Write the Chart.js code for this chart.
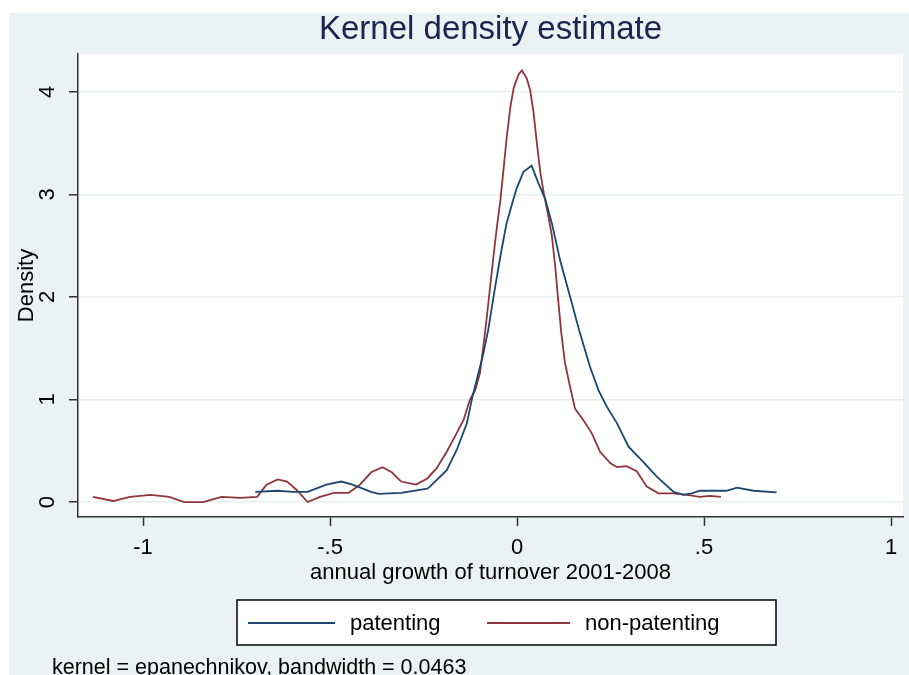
<!DOCTYPE html>
<html>
<head>
<meta charset="utf-8">
<script src="https://cdn.jsdelivr.net/npm/chart.js@4.4.1/dist/chart.umd.min.js"></script>
<style>
  html, body { margin: 0; padding: 0; background: #fff; }
  canvas { display: block; }
</style>
</head>
<body>
<canvas id="kdensChart" width="909" height="675"></canvas>
<script>
// values
const patX = [-0.70, -0.64, -0.60, -0.56, -0.51, -0.47, -0.44, -0.39, -0.37, -0.31, -0.24, -0.233, -0.188, -0.161, -0.134, -0.121, -0.108, -0.09, -0.077, -0.063, -0.045, -0.028, -0.01, -0.001, 0.017, 0.039, 0.057, 0.075, 0.093, 0.115, 0.142, 0.168, 0.195, 0.218, 0.24, 0.267, 0.298, 0.338, 0.373, 0.418, 0.445, 0.467, 0.489, 0.56, 0.588, 0.632, 0.694];
const patY = [0.10, 0.11, 0.10, 0.10, 0.17, 0.20, 0.17, 0.10, 0.08, 0.09, 0.13, 0.15, 0.31, 0.51, 0.77, 1.00, 1.19, 1.45, 1.68, 2.00, 2.39, 2.72, 2.95, 3.06, 3.22, 3.28, 3.11, 2.96, 2.72, 2.36, 2.00, 1.65, 1.32, 1.09, 0.93, 0.77, 0.54, 0.39, 0.25, 0.10, 0.07, 0.085, 0.11, 0.11, 0.14, 0.11, 0.095];

const nonPatX = [-1.134, -1.08, -1.035, -0.98, -0.93, -0.89, -0.84, -0.79, -0.74, -0.695, -0.67, -0.64, -0.615, -0.59, -0.56, -0.527, -0.49, -0.45, -0.42, -0.39, -0.36, -0.335, -0.31, -0.27, -0.24, -0.215, -0.188, -0.166, -0.143, -0.126, -0.112, -0.099, -0.09, -0.081, -0.072, -0.063, -0.054, -0.045, -0.036, -0.027, -0.018, -0.009, 0.004, 0.013, 0.026, 0.035, 0.044, 0.053, 0.062, 0.072, 0.082, 0.093, 0.102, 0.11, 0.118, 0.128, 0.142, 0.155, 0.177, 0.20, 0.222, 0.249, 0.267, 0.293, 0.32, 0.347, 0.378, 0.418, 0.454, 0.489, 0.516, 0.545];
const nonPatY = [0.05, 0.01, 0.05, 0.07, 0.05, 0.00, 0.00, 0.05, 0.04, 0.05, 0.17, 0.22, 0.20, 0.12, 0.00, 0.05, 0.09, 0.09, 0.17, 0.29, 0.34, 0.29, 0.20, 0.17, 0.23, 0.33, 0.49, 0.64, 0.80, 1.00, 1.09, 1.26, 1.52, 1.80, 2.10, 2.40, 2.68, 2.93, 3.25, 3.58, 3.85, 4.04, 4.17, 4.21, 4.13, 4.02, 3.80, 3.50, 3.22, 3.00, 2.82, 2.60, 2.30, 1.97, 1.66, 1.36, 1.12, 0.91, 0.80, 0.67, 0.49, 0.38, 0.34, 0.35, 0.30, 0.15, 0.085, 0.085, 0.07, 0.05, 0.06, 0.05];

const xTicks = [-1, -0.5, 0, 0.5, 1];
const yTicks = [0, 1, 2, 3, 4];
const seriesNames = ["patenting", "non-patenting"];
const seriesColors = ["#1a476f", "#90353b"];
const footnote = "kernel = epanechnikov, bandwidth = 0.0463";

const FONT = "'Liberation Sans', Arial, sans-serif";

function toPoints(xs, ys) {
  return xs.map((x, i) => ({ x: x, y: ys[i] }));
}

function stataLabel(v) {
  if (v === 0) return "0";
  return String(v).replace("0.", ".");
}

// backdrop, legend box and note, drawn round the chart
const frame = {
  id: "frame",
  beforeDraw(chart) {
    const ctx = chart.ctx;
    const a = chart.chartArea;
    ctx.save();
    ctx.fillStyle = "#ffffff";
    ctx.fillRect(0, 0, chart.width, chart.height);
    ctx.fillStyle = "#eaf2f3";
    ctx.fillRect(9, 13, chart.width - 9, chart.height - 13);
    ctx.fillStyle = "#ffffff";
    ctx.fillRect(a.left, a.top, a.right - a.left, a.bottom - a.top);
    ctx.restore();
  },
  afterDraw(chart) {
    const ctx = chart.ctx;
    ctx.save();
    // legend
    ctx.fillStyle = "#ffffff";
    ctx.fillRect(237, 600, 539, 45);
    ctx.strokeStyle = "#000000";
    ctx.lineWidth = 1.5;
    ctx.strokeRect(237, 600, 539, 45);
    const items = [
      { x0: 248, x1: 335, tx: 350 },
      { x0: 487, x1: 570, tx: 585 }
    ];
    ctx.font = "22px " + FONT;
    ctx.textBaseline = "middle";
    ctx.textAlign = "left";
    items.forEach((it, i) => {
      ctx.strokeStyle = seriesColors[i];
      ctx.lineWidth = 1.8;
      ctx.beginPath();
      ctx.moveTo(it.x0, 623);
      ctx.lineTo(it.x1, 623);
      ctx.stroke();
      ctx.fillStyle = "#000000";
      ctx.fillText(seriesNames[i], it.tx, 624);
    });
    // note
    ctx.font = "21.5px " + FONT;
    ctx.textBaseline = "alphabetic";
    ctx.fillText(footnote, 52, 674);
    ctx.restore();
  }
};

const ctx = document.getElementById("kdensChart").getContext("2d");
const kdensChart = new Chart(ctx, {
  type: "line",
  data: {
    datasets: [
      {
        label: seriesNames[0],
        data: toPoints(patX, patY),
        borderColor: seriesColors[0],
        borderWidth: 1.8,
        pointRadius: 0,
        tension: 0,
        fill: false
      },
      {
        label: seriesNames[1],
        data: toPoints(nonPatX, nonPatY),
        borderColor: seriesColors[1],
        borderWidth: 1.8,
        pointRadius: 0,
        tension: 0,
        fill: false
      }
    ]
  },
  options: {
    responsive: false,
    animation: false,
    devicePixelRatio: 1,
    layout: {
      padding: { top: 13, left: 9, right: 6, bottom: 88 }
    },
    plugins: {
      legend: { display: false },
      tooltip: { enabled: false },
      title: {
        display: true,
        text: "Kernel density estimate",
        fullSize: false,
        color: "#1a2550",
        font: { family: FONT, size: 33, weight: "normal", lineHeight: 1 },
        padding: { top: 0, bottom: 8 }
      }
    },
    scales: {
      x: {
        type: "linear",
        min: -1.174,
        max: 1.032,
        afterBuildTicks: (s) => { s.ticks = xTicks.map((v) => ({ value: v })); },
        afterFit: (s) => { s.height = 70; },
        grid: {
          drawOnChartArea: false,
          drawTicks: true,
          tickLength: 9,
          tickColor: "#333333",
          tickWidth: 1.5
        },
        border: { display: true, color: "#333333", width: 1.5 },
        ticks: {
          padding: 9,
          color: "#000000",
          font: { family: FONT, size: 22 },
          maxRotation: 0,
          autoSkip: false,
          callback: (v) => stataLabel(v)
        },
        title: {
          display: true,
          text: "annual growth of turnover 2001-2008",
          color: "#000000",
          font: { family: FONT, size: 22 },
          padding: { top: 0, bottom: 1 }
        }
      },
      y: {
        min: -0.146,
        max: 4.37,
        afterBuildTicks: (s) => { s.ticks = yTicks.map((v) => ({ value: v })); },
        afterFit: (s) => { s.width = 69; },
        grid: {
          color: "#e6eeef",
          lineWidth: 1.5,
          drawTicks: true,
          tickLength: 9,
          tickColor: "#333333",
          tickWidth: 1.5
        },
        border: { display: true, color: "#333333", width: 1.5 },
        ticks: {
          padding: 15,
          crossAlign: "center",
          minRotation: 90,
          maxRotation: 90,
          color: "#000000",
          font: { family: FONT, size: 22 },
          autoSkip: false,
          callback: (v) => stataLabel(v)
        },
        title: {
          display: true,
          text: "Density",
          color: "#000000",
          font: { family: FONT, size: 22 },
          padding: { top: 5, bottom: 0 }
        }
      }
    }
  },
  plugins: [frame]
});
</script>
</body>
</html>
